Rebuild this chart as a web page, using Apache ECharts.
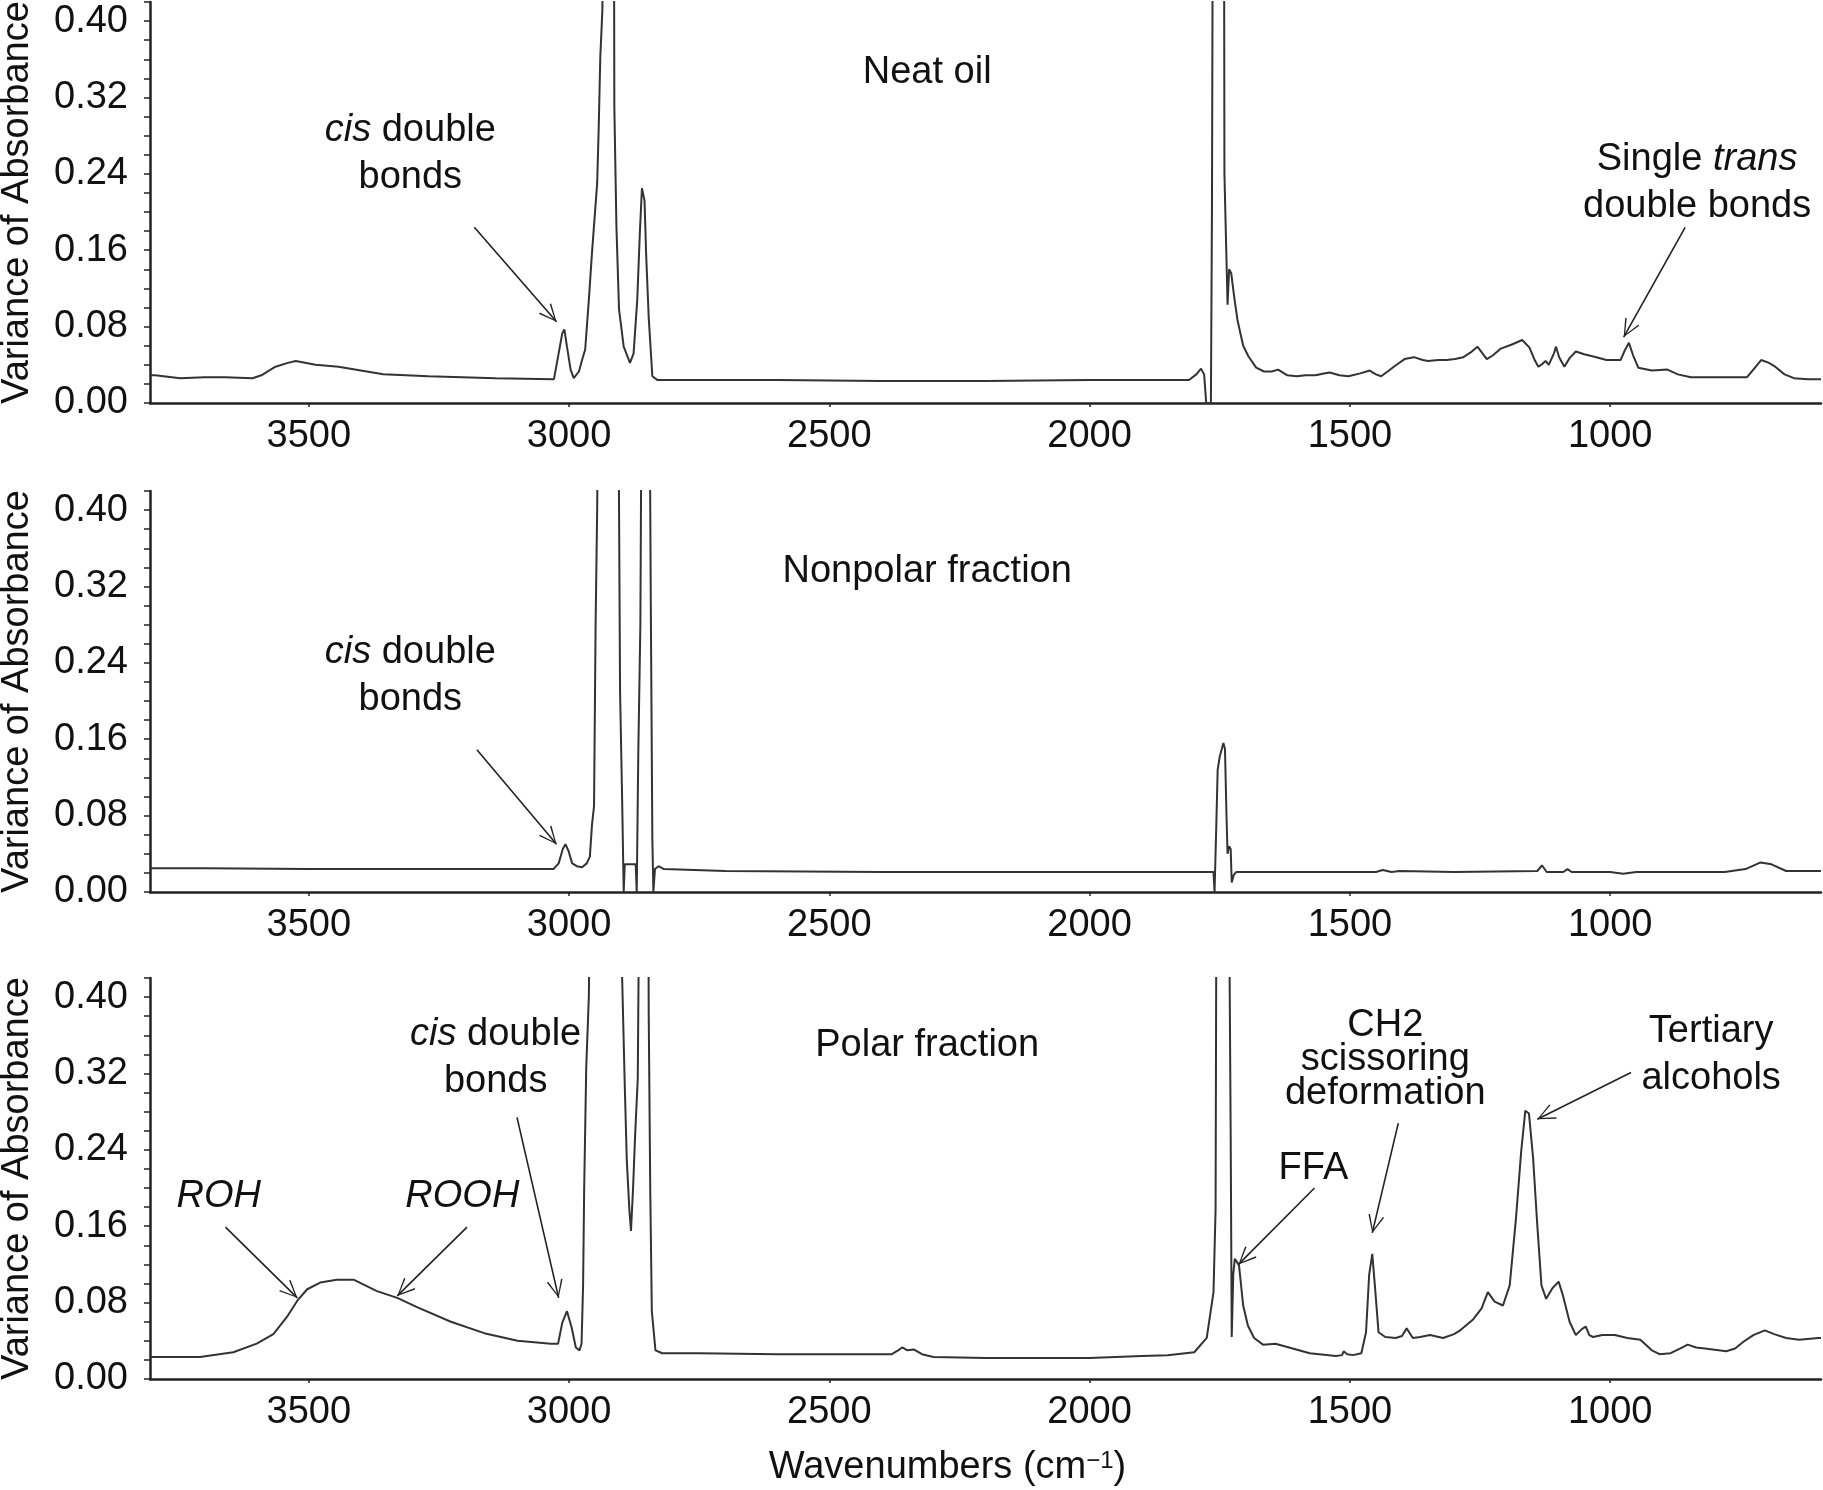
<!DOCTYPE html>
<html>
<head>
<meta charset="utf-8">
<title>Variance spectra</title>
<script src="https://cdn.jsdelivr.net/npm/echarts@6/dist/echarts.min.js"></script>
<style>
  html, body { margin: 0; padding: 0; background: #fff; }
  #chart { width: 1823px; height: 1490px; }
</style>
</head>
<body>
<div id="chart"></div>
<script>
// tick labels
var wnTicks = [1000, 1500, 2000, 2500, 3000, 3500];
var absTicks = [0, 0.08, 0.16, 0.24, 0.32, 0.40];
var absMinorTicks = [0, 0.02, 0.04, 0.06, 0.08, 0.10, 0.12, 0.14, 0.16, 0.18, 0.20,
  0.22, 0.24, 0.26, 0.28, 0.30, 0.32, 0.34, 0.36, 0.38, 0.40, 0.42];
var panelTitles = ['Neat oil', 'Nonpolar fraction', 'Polar fraction'];

// [wavenumber, variance of absorbance]
var neatOil = [
  [3804, 0.029], [3795, 0.029], [3747, 0.026], [3700, 0.027], [3660, 0.027], [3608, 0.026],
  [3591, 0.029], [3564, 0.038], [3540, 0.042], [3525, 0.044], [3487, 0.040], [3443, 0.038],
  [3400, 0.034], [3357, 0.030], [3270, 0.028], [3141, 0.026], [3029, 0.025], [3020, 0.052],
  [3013, 0.073], [3009, 0.077], [3004, 0.059], [2997, 0.035], [2991, 0.026], [2981, 0.033],
  [2975, 0.045], [2969, 0.056], [2962, 0.108], [2956, 0.157], [2946, 0.230], [2943, 0.289],
  [2940, 0.362], [2936, 0.411], [2933, 0.600], [2914, 0.600], [2913, 0.310], [2909, 0.185],
  [2904, 0.098], [2895, 0.059], [2883, 0.042], [2876, 0.052], [2869, 0.108], [2864, 0.178],
  [2860, 0.225], [2855, 0.212], [2852, 0.157], [2847, 0.090], [2840, 0.028], [2830, 0.024],
  [2600, 0.024], [2400, 0.023], [2200, 0.023], [2000, 0.024], [1809, 0.024], [1795, 0.030],
  [1786, 0.036], [1780, 0.030], [1776, 0.000], [1767, 0.000], [1765, 0.200], [1763, 0.600],
  [1742, 0.600], [1741, 0.240], [1738, 0.171], [1735, 0.103], [1732, 0.140], [1728, 0.136],
  [1722, 0.110], [1716, 0.087], [1705, 0.060], [1695, 0.049], [1680, 0.037], [1665, 0.033],
  [1650, 0.033], [1638, 0.035], [1620, 0.029], [1602, 0.028], [1585, 0.029], [1566, 0.029],
  [1550, 0.031], [1539, 0.032], [1520, 0.029], [1503, 0.028], [1480, 0.031], [1462, 0.034],
  [1450, 0.030], [1440, 0.028], [1425, 0.034], [1413, 0.039], [1395, 0.046], [1377, 0.048],
  [1360, 0.045], [1350, 0.044], [1330, 0.045], [1314, 0.045], [1298, 0.046], [1282, 0.048],
  [1268, 0.053], [1255, 0.059], [1237, 0.046], [1225, 0.050], [1210, 0.057], [1190, 0.061],
  [1169, 0.066], [1155, 0.058], [1145, 0.045], [1138, 0.038], [1130, 0.041], [1124, 0.044],
  [1118, 0.040], [1115, 0.038], [1108, 0.052], [1104, 0.059], [1098, 0.048], [1088, 0.038],
  [1078, 0.047], [1066, 0.054], [1050, 0.051], [1034, 0.049], [1007, 0.045], [980, 0.045],
  [972, 0.055], [964, 0.063], [956, 0.050], [946, 0.037], [920, 0.034], [890, 0.035],
  [870, 0.030], [845, 0.027], [800, 0.027], [737, 0.027], [725, 0.035], [710, 0.045],
  [695, 0.042], [683, 0.038], [665, 0.030], [647, 0.026], [620, 0.025], [595, 0.025]
];

var nonpolar = [
  [3804, 0.025], [3700, 0.025], [3500, 0.024], [3300, 0.024], [3100, 0.024], [3030, 0.024],
  [3020, 0.030], [3012, 0.045], [3007, 0.050], [3001, 0.043], [2994, 0.030], [2985, 0.027],
  [2975, 0.026], [2966, 0.030], [2960, 0.037], [2956, 0.070], [2952, 0.090], [2949, 0.280],
  [2946, 0.400], [2943, 0.600], [2906, 0.600], [2902, 0.210], [2898, 0.096], [2895, 0.000],
  [2893, 0.029], [2872, 0.029], [2870, 0.000], [2867, 0.145], [2863, 0.280], [2860, 0.600],
  [2846, 0.600], [2843, 0.305], [2840, 0.056], [2838, 0.000], [2835, 0.024], [2828, 0.027],
  [2818, 0.024], [2700, 0.022], [2400, 0.021], [2000, 0.021], [1800, 0.021], [1762, 0.021],
  [1760, 0.000], [1757, 0.062], [1754, 0.128], [1750, 0.142], [1743, 0.156], [1740, 0.150],
  [1737, 0.079], [1735, 0.040], [1732, 0.048], [1729, 0.045], [1727, 0.010], [1723, 0.018],
  [1718, 0.021], [1600, 0.021], [1450, 0.021], [1437, 0.023], [1420, 0.021], [1404, 0.022],
  [1300, 0.021], [1140, 0.022], [1131, 0.028], [1122, 0.021], [1090, 0.021], [1082, 0.024],
  [1074, 0.021], [1000, 0.021], [975, 0.019], [950, 0.021], [780, 0.021], [740, 0.024],
  [711, 0.031], [690, 0.029], [662, 0.022], [595, 0.022]
];

var polar = [
  [3804, 0.023], [3709, 0.023], [3645, 0.028], [3600, 0.037], [3568, 0.047], [3542, 0.065],
  [3522, 0.082], [3503, 0.094], [3478, 0.101], [3446, 0.104], [3414, 0.104], [3369, 0.092],
  [3330, 0.085], [3291, 0.075], [3227, 0.060], [3163, 0.048], [3099, 0.040], [3035, 0.037],
  [3021, 0.037], [3013, 0.059], [3004, 0.071], [2995, 0.054], [2987, 0.033], [2980, 0.030],
  [2976, 0.037], [2973, 0.099], [2971, 0.197], [2967, 0.326], [2962, 0.400], [2958, 0.600],
  [2899, 0.600], [2898, 0.420], [2893, 0.308], [2889, 0.228], [2884, 0.176], [2881, 0.155],
  [2877, 0.200], [2873, 0.256], [2868, 0.315], [2864, 0.600], [2848, 0.600], [2847, 0.385],
  [2844, 0.197], [2841, 0.071], [2834, 0.030], [2821, 0.027], [2750, 0.027], [2600, 0.026],
  [2450, 0.026], [2380, 0.026], [2368, 0.030], [2360, 0.033], [2350, 0.030], [2338, 0.031],
  [2322, 0.026], [2300, 0.023], [2200, 0.022], [2100, 0.022], [2000, 0.022], [1900, 0.024],
  [1850, 0.025], [1799, 0.028], [1775, 0.043], [1762, 0.091], [1758, 0.178], [1756, 0.600],
  [1732, 0.600], [1731, 0.420], [1729, 0.255], [1727, 0.044], [1724, 0.110], [1721, 0.126],
  [1713, 0.119], [1705, 0.077], [1696, 0.056], [1684, 0.043], [1667, 0.036], [1643, 0.037],
  [1610, 0.032], [1577, 0.027], [1527, 0.024], [1515, 0.025], [1512, 0.029], [1505, 0.026],
  [1494, 0.025], [1478, 0.027], [1469, 0.049], [1463, 0.109], [1457, 0.131], [1451, 0.091],
  [1445, 0.049], [1432, 0.044], [1412, 0.043], [1400, 0.045], [1391, 0.053], [1379, 0.043],
  [1365, 0.044], [1346, 0.046], [1321, 0.043], [1300, 0.047], [1288, 0.051], [1264, 0.062],
  [1247, 0.074], [1235, 0.091], [1222, 0.081], [1206, 0.077], [1193, 0.098], [1181, 0.168],
  [1171, 0.238], [1163, 0.281], [1156, 0.278], [1148, 0.231], [1140, 0.161], [1132, 0.098],
  [1123, 0.084], [1111, 0.095], [1099, 0.102], [1091, 0.088], [1078, 0.060], [1066, 0.046],
  [1055, 0.052], [1047, 0.055], [1040, 0.046], [1033, 0.044], [1015, 0.046], [991, 0.046],
  [967, 0.043], [942, 0.041], [920, 0.030], [905, 0.026], [884, 0.027], [865, 0.032],
  [851, 0.036], [835, 0.033], [818, 0.032], [777, 0.029], [760, 0.032], [744, 0.039],
  [725, 0.046], [703, 0.051], [685, 0.047], [662, 0.043], [637, 0.041], [600, 0.043],
  [595, 0.043]
];

// arrows: [panel, fromWn, fromAbs, toWn, toAbs]
var arrows = [
  [0, 3182, 0.184, 3024, 0.085],
  [0, 856, 0.184, 974, 0.069],
  [1, 3177, 0.149, 3024, 0.050],
  [2, 3100, 0.274, 3020, 0.085],
  [2, 3660, 0.159, 3522, 0.085],
  [2, 3196, 0.159, 3330, 0.087],
  [2, 1568, 0.200, 1714, 0.120],
  [2, 1407, 0.268, 1457, 0.153],
  [2, 960, 0.321, 1140, 0.272]
];

// annotation texts: [panel, wn, abs, text]
var notes = [
  [0, 2312, 0.346, 'Neat oil'],
  [0, 3305, 0.261, '{i|cis} double\nbonds'],
  [0, 833, 0.230, 'Single {i|trans}\ndouble bonds'],
  [1, 2312, 0.336, 'Nonpolar fraction'],
  [1, 3305, 0.226, '{i|cis} double\nbonds'],
  [2, 2312, 0.349, 'Polar fraction'],
  [2, 3141, 0.336, '{i|cis} double\nbonds'],
  [2, 3673, 0.191, '{i|ROH}'],
  [2, 3205, 0.191, '{i|ROOH}'],
  [2, 1570, 0.220, 'FFA'],
  [2, 1432, 0.335, 'CH2\nscissoring\ndeformation'],
  [2, 806, 0.339, 'Tertiary\nalcohols']
];

var FONT = "'Liberation Sans', Arial, Helvetica, sans-serif";
var INK = '#111';
var ARROW = 'path://M0,0 L8,17 L6.6,17.6 L0,2.6 L-6.6,17.6 L-8,17 Z M0,-17.6 L0.01,-17.6 L0,-17.59 Z';
var gridTops = [2, 491, 978];
var spectra = [neatOil, nonpolar, polar];

var chart = echarts.init(document.getElementById('chart'), null, { renderer: 'canvas' });

var grids = [], xAxes = [], yAxes = [], series = [];
gridTops.forEach(function (top, i) {
  grids.push({ left: 150, right: 2, top: top, height: 401, outerBoundsMode: 'none', containLabel: false });
  xAxes.push({
    type: 'value', gridIndex: i, min: 595, max: 3805, inverse: true,
    name: i === 2 ? 'Wavenumbers (cm{sup|\u22121})' : '',
    nameLocation: 'middle', nameGap: 70,
    nameTextStyle: {
      fontSize: 38, fontFamily: FONT, color: INK, padding: [0, 76, 0, 0],
      rich: { sup: { fontSize: 24, fontFamily: FONT, color: INK, verticalAlign: 'top', lineHeight: 24 } }
    },
    axisLine: { lineStyle: { color: '#222', width: 2.5 } },
    axisTick: { customValues: wnTicks, length: 4, lineStyle: { color: '#222', width: 1.5 } },
    axisLabel: {
      customValues: wnTicks, fontSize: 38, fontFamily: FONT, color: INK, margin: 15,
      formatter: function (v) { return String(v); }
    },
    splitLine: { show: false }
  });
  yAxes.push({
    type: 'value', gridIndex: i, min: 0, max: 0.42,
    name: 'Variance of Absorbance', nameLocation: 'middle', nameGap: 113,
    nameTextStyle: { fontSize: 38, fontFamily: FONT, color: INK },
    axisLine: { show: true, lineStyle: { color: '#222', width: 2.5 } },
    axisTick: { show: true, customValues: absMinorTicks, length: 6, lineStyle: { color: '#222', width: 1.5 } },
    axisLabel: {
      customValues: absTicks, fontSize: 38, fontFamily: FONT, color: INK, margin: 22,
      formatter: function (v) { return v.toFixed(2); }
    },
    splitLine: { show: false }
  });
  series.push({
    type: 'line', xAxisIndex: i, yAxisIndex: i, data: spectra[i],
    showSymbol: false, symbol: 'none', clip: true, silent: true,
    lineStyle: { color: '#333', width: 2 },
    markLine: {
      silent: true, animation: false,
      symbol: ['none', ARROW], symbolSize: [16, 36],
      lineStyle: { color: '#222', width: 1.6, type: 'solid' },
      label: { show: false },
      emphasis: { disabled: true },
      data: arrows.filter(function (a) { return a[0] === i; }).map(function (a) {
        return [{ coord: [a[1], a[2]] }, { coord: [a[3], a[4]] }];
      })
    }
  });
});

chart.setOption({
  animation: false,
  backgroundColor: '#fff',
  grid: grids, xAxis: xAxes, yAxis: yAxes, series: series
});

var richStyle = function (lh) {
  return {
    i: { fontStyle: 'italic', fontSize: 38, fontFamily: FONT, fill: INK, lineHeight: lh },
    n: { fontSize: 38, fontFamily: FONT, fill: INK, lineHeight: lh }
  };
};
chart.setOption({
  graphic: notes.map(function (n) {
    var p = chart.convertToPixel({ gridIndex: n[0] }, [n[1], n[2]]);
    var lh = n[3].indexOf('scissoring') >= 0 ? 34 : 47;
    return {
      type: 'text', x: p[0], y: p[1], silent: true,
      style: {
        text: n[3], fontSize: 38, fontFamily: FONT, fill: INK,
        align: 'center', verticalAlign: 'middle', lineHeight: lh, rich: richStyle(lh)
      }
    };
  })
});
</script>
</body>
</html>
